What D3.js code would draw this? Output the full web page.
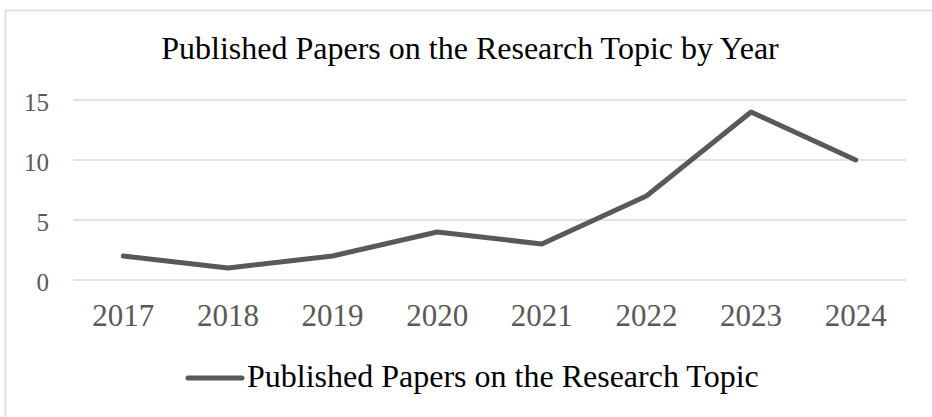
<!DOCTYPE html>
<html>
<head>
<meta charset="utf-8">
<script src="https://cdn.jsdelivr.net/npm/d3@7"></script>
<style>
  html, body { margin: 0; padding: 0; background: #fff; }
  svg { display: block; font-family: 'Liberation Serif', 'Times New Roman', serif; }
</style>
</head>
<body>
<div id="chart"></div>
<script>
const years = ['2017', '2018', '2019', '2020', '2021', '2022', '2023', '2024']
const papers = [2, 1, 2, 4, 3, 7, 14, 10]
const yTicks = [0, 5, 10, 15]
const title = 'Published Papers on the Research Topic by Year'
const seriesName = 'Published Papers on the Research Topic'

const width = 932
const height = 417
const plot = { left: 73, right: 906, top: 100, bottom: 280 }

const svg = d3.select('#chart')
  .append('svg')
  .attr('width', width)
  .attr('height', height)

// chart frame
svg.append('rect')
  .attr('x', 5.5)
  .attr('y', 10.5)
  .attr('width', width + 10)
  .attr('height', height + 10)
  .attr('fill', '#fff')
  .attr('stroke', '#d9d9d9')
  .attr('stroke-width', 1.5)

// title
svg.append('text')
  .attr('x', 470)
  .attr('y', 59)
  .attr('text-anchor', 'middle')
  .attr('font-size', '32px')
  .attr('fill', '#000')
  .text(title)

const xScale = d3.scaleBand()
  .domain(years)
  .range([71, 908])

const yScale = d3.scaleLinear()
  .domain([0, 15])
  .range([plot.bottom, plot.top])

// gridlines
svg.append('g')
  .selectAll('line')
  .data(yTicks)
  .join('line')
  .attr('x1', plot.left)
  .attr('x2', plot.right)
  .attr('y1', d => yScale(d))
  .attr('y2', d => yScale(d))
  .attr('stroke', '#d9d9d9')
  .attr('stroke-width', 1.5)

// y axis labels
const yAxis = svg.append('g')
  .attr('transform', 'translate(49, 0)')
  .call(d3.axisLeft(yScale).tickValues(yTicks).tickSize(0).tickPadding(0))
yAxis.select('.domain').remove()
yAxis.selectAll('text')
  .attr('font-family', 'Liberation Serif, Times New Roman, serif')
  .attr('font-size', '25px')
  .attr('fill', '#595959')
  .attr('dy', '0.4em')

// x axis labels
const xAxis = svg.append('g')
  .attr('transform', 'translate(0, 300)')
  .call(d3.axisBottom(xScale).tickSize(0).tickPadding(0))
xAxis.select('.domain').remove()
xAxis.selectAll('text')
  .attr('font-family', 'Liberation Serif, Times New Roman, serif')
  .attr('font-size', '31px')
  .attr('fill', '#595959')
  .attr('dy', '0.85em')

// line
const line = d3.line()
  .x((d, i) => xScale(years[i]) + xScale.bandwidth() / 2)
  .y(d => yScale(d))

svg.append('path')
  .datum(papers)
  .attr('d', line)
  .attr('fill', 'none')
  .attr('stroke', '#595959')
  .attr('stroke-width', 5)
  .attr('stroke-linecap', 'round')
  .attr('stroke-linejoin', 'round')

// legend
const legend = svg.append('g')
  .attr('transform', 'translate(188, 378)')
legend.append('line')
  .attr('x1', 0)
  .attr('x2', 54)
  .attr('stroke', '#595959')
  .attr('stroke-width', 5)
  .attr('stroke-linecap', 'round')
legend.append('text')
  .attr('x', 59)
  .attr('y', 9)
  .attr('font-size', '32px')
  .attr('fill', '#000')
  .text(seriesName)
</script>
</body>
</html>
